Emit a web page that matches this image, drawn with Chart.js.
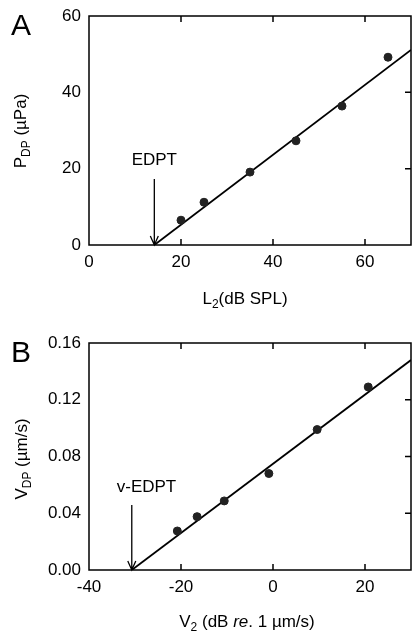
<!DOCTYPE html>
<html>
<head>
<meta charset="utf-8">
<script src="https://cdn.jsdelivr.net/npm/chart.js@4/dist/chart.umd.min.js"></script>
<style>
  html, body { margin: 0; padding: 0; background: #fff; }
  #wrap { position: relative; width: 412px; height: 631px; }
  .panel { position: absolute; left: 0; width: 412px; }
</style>
</head>
<body>
<div id="wrap">
  <div class="panel" style="top:0;height:315px"><canvas id="chartA"></canvas></div>
  <div class="panel" style="top:315px;height:316px"><canvas id="chartB"></canvas></div>
</div>
<script>
// panel A : DP pressure vs L2
const levelA = [20, 25, 35, 45, 55, 65]
const pressureA = [6.5, 11.2, 19.1, 27.3, 36.4, 49.2]
const fitLevelA = [14.2, 70]
const fitPressureA = [0, 51.1]

// panel B : DP velocity vs V2
const levelB = [-20.8, -16.5, -10.6, -0.9, 9.6, 20.7]
const velocityB = [0.0275, 0.0376, 0.0487, 0.068, 0.099, 0.129]
const fitLevelB = [-30.7, 30]
const fitVelocityB = [0, 0.148]

const FONT = '"Liberation Sans", Arial, Helvetica, sans-serif'

function toPoints(xs, ys) {
    return xs.map((v, i) => ({ x: v, y: ys[i] }))
}

function partFont(p, size) {
    return (p.it ? 'italic ' : '') + (p.sub ? Math.round(size * 0.68) : size) + 'px ' + FONT
}

// text with subscript / italic parts, drawn centred on cx
function drawRich(ctx, parts, cx, baseY, size) {
    let w = 0
    parts.forEach(p => {
        ctx.font = partFont(p, size)
        w += ctx.measureText(p.t).width
    })
    let x = cx - w / 2
    ctx.textAlign = 'left'
    ctx.textBaseline = 'alphabetic'
    parts.forEach(p => {
        ctx.font = partFont(p, size)
        ctx.fillText(p.t, x, p.sub ? baseY + size * 0.22 : baseY)
        x += ctx.measureText(p.t).width
    })
}

const framePlugin = {
    id: 'frame',
    afterDraw(chart, args, o) {
        const ctx = chart.ctx
        const a = chart.chartArea
        const xs = chart.scales.x, ys = chart.scales.y
        ctx.save()
        ctx.strokeStyle = '#000'
        ctx.fillStyle = '#000'
        ctx.lineWidth = 1.5
        ctx.strokeRect(a.left, a.top, a.right - a.left, a.bottom - a.top)

        // inward ticks, top/bottom and right
        ctx.beginPath()
        xs.ticks.forEach(t => {
            if (t.value === xs.min) return
            const px = xs.getPixelForValue(t.value)
            ctx.moveTo(px, a.bottom); ctx.lineTo(px, a.bottom - 6)
            ctx.moveTo(px, a.top); ctx.lineTo(px, a.top + 6)
        })
        ys.ticks.forEach(t => {
            if (t.value === ys.min || Math.abs(t.value - ys.max) < 1e-9) return
            const py = ys.getPixelForValue(t.value)
            ctx.moveTo(a.right, py); ctx.lineTo(a.right - 6, py)
        })
        ctx.stroke()

        // threshold arrow
        const ax = xs.getPixelForValue(o.arrowX)
        const ay1 = ys.getPixelForValue(o.arrowFrom)
        const ay2 = ys.getPixelForValue(0)
        ctx.lineWidth = 1.3
        ctx.beginPath()
        ctx.moveTo(ax, ay1); ctx.lineTo(ax, ay2)
        ctx.moveTo(ax - 4, ay2 - 9); ctx.lineTo(ax, ay2); ctx.lineTo(ax + 4, ay2 - 9)
        ctx.stroke()
        ctx.font = '17px ' + FONT
        ctx.textAlign = 'center'
        ctx.textBaseline = 'middle'
        ctx.fillText(o.label, xs.getPixelForValue(o.labelX), ys.getPixelForValue(o.labelY))

        // panel letter
        ctx.font = '30px ' + FONT
        ctx.textAlign = 'left'
        ctx.textBaseline = 'alphabetic'
        ctx.fillText(o.letter, 11, o.letterY)

        // axis titles
        drawRich(ctx, o.xTitle, o.xTitleX, o.xTitleY, 17)
        ctx.save()
        ctx.translate(o.yTitleX, o.yTitleY)
        ctx.rotate(-Math.PI / 2)
        drawRich(ctx, o.yTitle, 0, 0, 17)
        ctx.restore()
        ctx.restore()
    }
}

function makePanel(id, p) {
    return new Chart(document.getElementById(id), {
        type: 'scatter',
        data: {
            datasets: [{
                data: toPoints(p.xs, p.ys),
                backgroundColor: '#222',
                borderColor: '#222',
                pointRadius: 4,
                pointHoverRadius: 4,
                showLine: false
            }, {
                data: toPoints(p.fitX, p.fitY),
                borderColor: '#000',
                borderWidth: 1.8,
                pointRadius: 0,
                showLine: true
            }]
        },
        options: {
            responsive: true,
            maintainAspectRatio: false,
            animation: false,
            events: [],
            // autoPadding off, otherwise the point radius eats 4px on the right
            layout: { autoPadding: false, padding: { top: p.top, right: 1, left: 0, bottom: 0 } },
            plugins: {
                legend: { display: false },
                tooltip: { enabled: false },
                frame: p.frame
            },
            scales: {
                x: {
                    type: 'linear',
                    min: p.xMin, max: p.xMax,
                    grid: { display: false, drawTicks: false },
                    border: { display: false },
                    ticks: { stepSize: 20, includeBounds: false, padding: 7, color: '#000', font: { size: 17, family: FONT } },
                    afterFit: s => { s.height = p.xHeight; s.paddingLeft = 0; s.paddingRight = 0 }
                },
                y: {
                    type: 'linear',
                    min: p.yMin, max: p.yMax,
                    grid: { display: false, drawTicks: false },
                    border: { display: false },
                    ticks: {
                        stepSize: p.yStep, padding: 8, color: '#000',
                        font: { size: 17, family: FONT },
                        callback: v => v.toFixed(p.dec)
                    },
                    afterFit: s => { s.width = 89; s.paddingTop = 0; s.paddingBottom = 0 }
                }
            }
        },
        plugins: [framePlugin]
    })
}

makePanel('chartA', {
    xs: levelA, ys: pressureA, fitX: fitLevelA, fitY: fitPressureA,
    xMin: 0, xMax: 70, yMin: 0, yMax: 60, yStep: 20, dec: 0,
    top: 16, xHeight: 70,
    frame: {
        letter: 'A', letterY: 35,
        arrowX: 14.2, arrowFrom: 17.3, label: 'EDPT', labelX: 14.2, labelY: 22.3,
        xTitle: [{ t: 'L' }, { t: '2', sub: true }, { t: '(dB SPL)' }], xTitleX: 245, xTitleY: 304,
        yTitle: [{ t: 'P' }, { t: 'DP', sub: true }, { t: ' (µPa)' }], yTitleX: 26, yTitleY: 131
    }
})

makePanel('chartB', {
    xs: levelB, ys: velocityB, fitX: fitLevelB, fitY: fitVelocityB,
    xMin: -40, xMax: 30, yMin: 0, yMax: 0.16, yStep: 0.04, dec: 2,
    top: 28, xHeight: 61,
    frame: {
        letter: 'B', letterY: 47,
        arrowX: -30.7, arrowFrom: 0.0459, label: 'v-EDPT', labelX: -27.5, labelY: 0.058,
        xTitle: [{ t: 'V' }, { t: '2', sub: true }, { t: ' (dB ' }, { t: 're', it: true }, { t: '. 1 µm/s)' }], xTitleX: 247, xTitleY: 312,
        yTitle: [{ t: 'V' }, { t: 'DP', sub: true }, { t: ' (µm/s)' }], yTitleX: 27, yTitleY: 144
    }
})
</script>
</body>
</html>
